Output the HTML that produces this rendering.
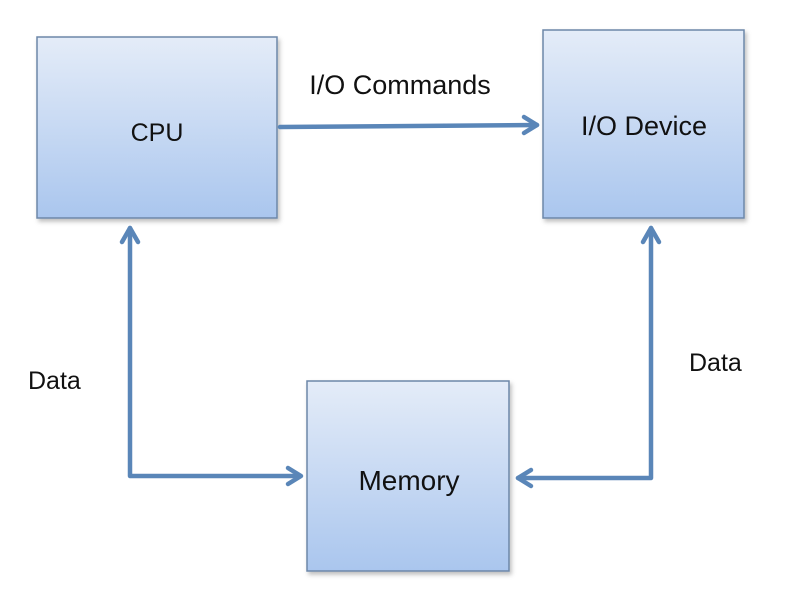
<!DOCTYPE html>
<html><head><style>
html,body{margin:0;padding:0;background:#fff;}
body{width:786px;height:592px;overflow:hidden;}
text{font-family:"Liberation Sans",sans-serif;fill:#111;}
</style></head><body>
<svg width="786" height="592" viewBox="0 0 786 592">
<defs>
<linearGradient id="g" x1="0" y1="0" x2="0" y2="1">
<stop offset="0" stop-color="#e4ecf8"/><stop offset="1" stop-color="#aac6ee"/>
</linearGradient>
<filter id="s" x="-10%" y="-10%" width="125%" height="125%"><feDropShadow dx="2" dy="3" stdDeviation="2" flood-color="#000" flood-opacity="0.25"/></filter>
</defs>
<rect x="37" y="37" width="240" height="181" fill="url(#g)" stroke="#6d87a8" stroke-width="1.5" filter="url(#s)"/>
<rect x="543" y="30" width="201" height="188" fill="url(#g)" stroke="#6d87a8" stroke-width="1.5" filter="url(#s)"/>
<rect x="307" y="381" width="202" height="190" fill="url(#g)" stroke="#6d87a8" stroke-width="1.5" filter="url(#s)"/>
<g fill="none" stroke="#5a86b8" stroke-width="4.5" stroke-linejoin="round" stroke-linecap="round">
<line x1="280" y1="127" x2="537" y2="125"/>
<polyline points="524,117 537,125 524,133"/>
<polyline points="130,228 130,476 300,476"/>
<polyline points="122,242 130,228 138,242"/>
<polyline points="288,468 301,476 288,484"/>
<polyline points="651,228 651,478 518,478"/>
<polyline points="643,242 651,228 659,242"/>
<polyline points="531,470 518,478 531,486"/>
</g>
<text x="157" y="141" font-size="25" text-anchor="middle">CPU</text>
<text x="644" y="135" font-size="27" text-anchor="middle">I/O Device</text>
<text x="409" y="490" font-size="28" text-anchor="middle">Memory</text>
<text x="400" y="94" font-size="27" text-anchor="middle">I/O Commands</text>
<text x="28" y="389" font-size="25">Data</text>
<text x="689" y="371" font-size="25">Data</text>
</svg>
</body></html>
